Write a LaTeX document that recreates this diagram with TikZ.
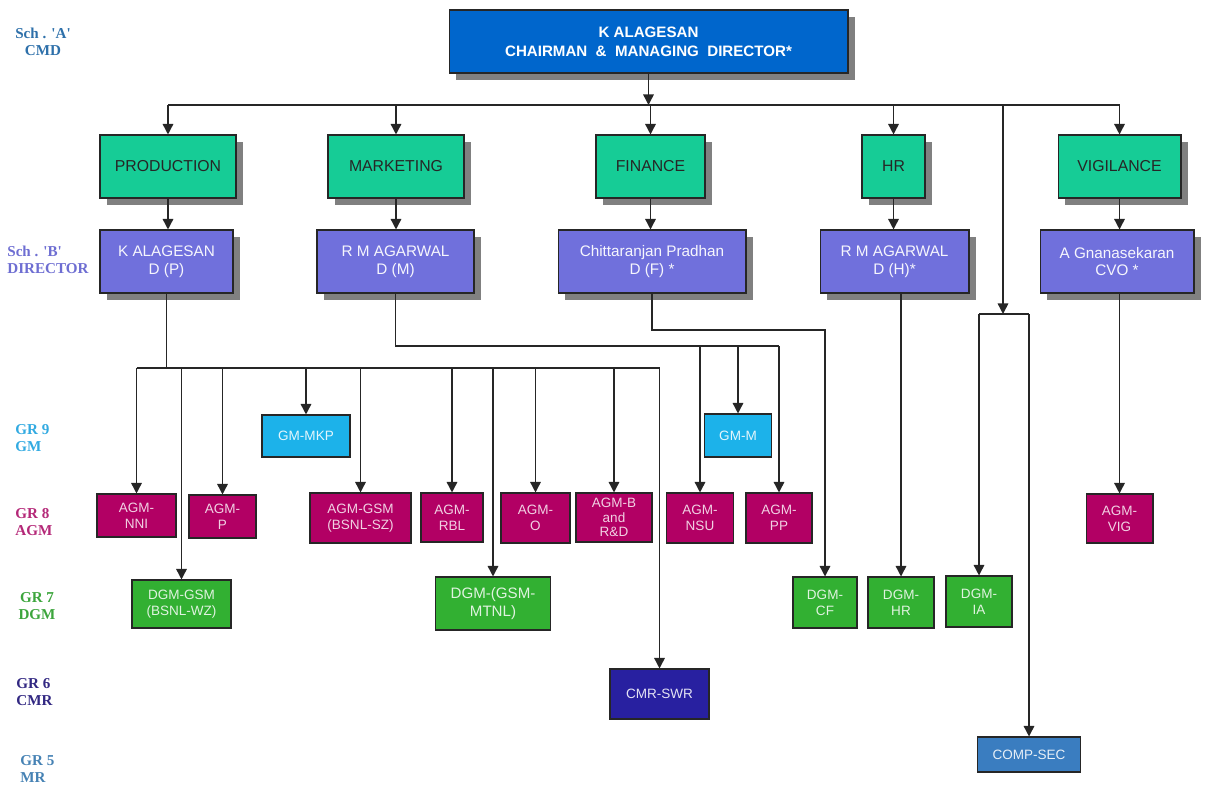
\documentclass[tikz,border=0pt]{standalone}
\usepackage{fontspec}
\setmainfont{Liberation Sans}
\newfontfamily\gradefont{Liberation Serif}
\usepackage{tikz}
\usetikzlibrary{arrows.meta, shadows, calc}
\usepackage{xcolor}

\definecolor{cmdblue}{RGB}{0,102,204}
\definecolor{deptgreen}{RGB}{22,204,150}
\definecolor{dirpurple}{RGB}{112,112,220}
\definecolor{gmblue}{RGB}{28,178,234}
\definecolor{agmred}{RGB}{178,0,100}
\definecolor{dgmgreen}{RGB}{50,176,50}
\definecolor{cmrnavy}{RGB}{40,32,160}
\definecolor{mrblue}{RGB}{58,125,192}
\definecolor{gradeA}{RGB}{46,112,170}
\definecolor{gradeB}{RGB}{110,110,210}
\definecolor{grade9}{RGB}{50,170,225}
\definecolor{grade8}{RGB}{180,40,120}
\definecolor{grade7}{RGB}{60,165,60}
\definecolor{grade6}{RGB}{50,40,130}
\definecolor{grade5}{RGB}{70,130,180}

\tikzset{
  box/.style={draw=black!85, line width=0.6pt, align=center, inner sep=1pt},
  boxshadow/.style={drop shadow={shadow xshift=0.14cm, shadow yshift=-0.14cm, fill=black!50, opacity=1}},
  cmdbox/.style={box, boxshadow, fill=cmdblue, text=white, minimum height=1.26cm,
    font=\bfseries\fontsize{8.6}{10.6}\selectfont},
  deptbox/.style={box, boxshadow, fill=deptgreen, text=black!85, minimum height=1.26cm,
    font=\fontsize{9}{11}\selectfont},
  dirbox/.style={box, boxshadow, fill=dirpurple, text=white!94!dirpurple, minimum height=1.26cm,
    font=\fontsize{8.7}{10.2}\selectfont},
  smallbox/.style={box, font=\fontsize{7.7}{9}\selectfont},
  gmbox/.style={smallbox, fill=gmblue, text=white!88!gmblue},
  agmbox/.style={smallbox, fill=agmred, text=white!82!agmred},
  dgmbox/.style={smallbox, fill=dgmgreen, text=white!85!dgmgreen},
  cmrbox/.style={smallbox, fill=cmrnavy, text=white!88!cmrnavy},
  mrbox/.style={smallbox, fill=mrblue, text=white!88!mrblue},
  grade/.style={font=\gradefont\bfseries\fontsize{8.6}{10}\selectfont, inner sep=0pt},
  link/.style={draw=black!85, line width=0.85pt},
  arr/.style={link, -{Triangle[width=6pt,length=6pt]}}
}

\begin{document}
\begin{tikzpicture}[x=0.02cm, y=-0.02cm]
  \useasboundingbox (0,0) rectangle (1229,787);

  % grade labels
  \node[grade, text=gradeA, align=center] (lA) at (43,42) {Sch . 'A'\\CMD};
  \node[grade, text=gradeB, align=left, anchor=west] (lB) at (7,260) {Sch . 'B'\\DIRECTOR};
  \node[grade, text=grade9, align=left, anchor=west] (l9) at (15,438) {GR 9\\GM};
  \node[grade, text=grade8, align=left, anchor=west] (l8) at (15,522) {GR 8\\AGM};
  \node[grade, text=grade7, align=center] (l7) at (37,606) {GR 7\\DGM};
  \node[grade, text=grade6, align=left, anchor=west] (l6) at (16,692) {GR 6\\CMR};
  \node[grade, text=grade5, align=left, anchor=west] (l5) at (20,769) {GR 5\\MR};

  % top levels
  \node[cmdbox, minimum width=7.98cm] (cmd) at (648.5,41.5)
    {K ALAGESAN\\CHAIRMAN~~\&~~MANAGING~~DIRECTOR*};

  \node[deptbox, minimum width=2.72cm] (prod) at (168,166.5) {PRODUCTION};
  \node[deptbox, minimum width=2.72cm] (mkt) at (396,166.5) {MARKETING};
  \node[deptbox, minimum width=2.18cm] (fin) at (650.5,166.5) {FINANCE};
  \node[deptbox, minimum width=1.26cm] (hr) at (893.5,166.5) {HR};
  \node[deptbox, minimum width=2.46cm] (vig) at (1119.5,166.5) {VIGILANCE};

  \node[dirbox, minimum width=2.66cm] (dirp) at (166.5,261.5) {K ALAGESAN\\D (P)};
  \node[dirbox, minimum width=3.14cm] (dirm) at (395.5,261.5) {R M AGARWAL\\D (M)};
  \node[dirbox, minimum width=3.76cm] (dirf) at (652,261.5) {Chittaranjan Pradhan\\D (F) *};
  \node[dirbox, minimum width=2.98cm] (dirh) at (894.5,261.5) {R M AGARWAL\\D (H)*};
  \node[dirbox, minimum width=3.08cm] (cvo) at (1117,261.5) {A Gnanasekaran\\CVO *};

  % GM
  \node[gmbox, minimum width=1.76cm, minimum height=0.84cm] (gmmkp) at (306,436) {GM-MKP};
  \node[gmbox, minimum width=1.34cm, minimum height=0.86cm] (gmm) at (738,435.5) {GM-M};

  % AGM
  \node[agmbox, minimum width=1.58cm, minimum height=0.86cm] (agmnni) at (136.5,515.5) {AGM-\\NNI};
  \node[agmbox, minimum width=1.34cm, minimum height=0.86cm] (agmp) at (222.5,516.5) {AGM-\\P};
  \node[agmbox, minimum width=2.02cm, minimum height=1cm] (agmgsm) at (360.5,518) {AGM-GSM\\(BSNL-SZ)};
  \node[agmbox, minimum width=1.24cm, minimum height=0.98cm] (agmrbl) at (452,517.5) {AGM-\\RBL};
  \node[agmbox, minimum width=1.38cm, minimum height=1cm] (agmo) at (535.5,518) {AGM-\\O};
  \node[agmbox, minimum width=1.52cm, minimum height=0.98cm, font=\fontsize{7.7}{8.4}\selectfont] (agmbrd) at (614,517.5) {AGM-B\\and\\R\&D};
  \node[agmbox, minimum width=1.34cm, minimum height=1cm] (agmnsu) at (700,518) {AGM-\\NSU};
  \node[agmbox, minimum width=1.32cm, minimum height=1cm] (agmpp) at (779,518) {AGM-\\PP};
  \node[agmbox, minimum width=1.34cm, minimum height=0.98cm] (agmvig) at (1119.5,518.5) {AGM-\\VIG};

  % DGM
  \node[dgmbox, minimum width=1.98cm, minimum height=0.96cm] (dgmwz) at (181.5,604) {DGM-GSM\\(BSNL-WZ)};
  \node[dgmbox, minimum width=2.3cm, minimum height=1.06cm, font=\fontsize{8.6}{10}\selectfont] (dgmmtnl) at (493,603.5) {DGM-(GSM-\\MTNL)};
  \node[dgmbox, minimum width=1.28cm, minimum height=1.02cm] (dgmcf) at (825,602.5) {DGM-\\CF};
  \node[dgmbox, minimum width=1.32cm, minimum height=1.02cm] (dgmhr) at (901,602.5) {DGM-\\HR};
  \node[dgmbox, minimum width=1.32cm, minimum height=1.02cm] (dgmia) at (979,601.5) {DGM-\\IA};

  % CMR and MR
  \node[cmrbox, minimum width=1.98cm, minimum height=1cm] (cmrswr) at (659.5,694) {CMR-SWR};
  \node[mrbox, minimum width=2.06cm, minimum height=0.7cm] (compsec) at (1029,754.5) {COMP-SEC};

  % connectors from the CMD
  \coordinate (bus) at (649,105);
  \draw[arr] (cmd.south) -- (cmd.south |- bus);
  \draw[link] (prod.north |- bus) -- (vig.north |- bus);
  \foreach \n in {prod,mkt,fin,hr,vig}
    \draw[arr] (\n.north |- bus) -- (\n.north);

  \coordinate (split) at (1003,314);
  \draw[arr] (split |- bus) -- (split);
  \draw[link] (dgmia.north |- split) -- (compsec.north |- split);
  \draw[arr] (dgmia.north |- split) -- (dgmia.north);
  \draw[arr] (compsec.north |- split) -- (compsec.north);

  \foreach \a/\b in {prod/dirp,mkt/dirm,fin/dirf,hr/dirh,vig/cvo}
    \draw[arr] (\a.south) -- (\a.south |- \b.north);

  % production
  \coordinate (pbus) at (168,368);
  \draw[link] (dirp.south) -- (dirp.south |- pbus);
  \draw[link] (agmnni.north |- pbus) -- (cmrswr.north |- pbus);
  \foreach \n in {agmnni,dgmwz,agmp,gmmkp,agmgsm,agmrbl,dgmmtnl,agmo,agmbrd,cmrswr}
    \draw[arr] (\n.north |- pbus) -- (\n.north);

  % marketing
  \coordinate (mbus) at (397,346);
  \draw[link] (dirm.south) -- (dirm.south |- mbus) -- (agmpp.north |- mbus);
  \foreach \n in {agmnsu,gmm,agmpp}
    \draw[arr] (\n.north |- mbus) -- (\n.north);

  % finance, hr, vigilance
  \coordinate (fbus) at (824,330);
  \draw[arr] (dirf.south) |- (dgmcf.north |- fbus) -- (dgmcf.north);
  \draw[arr] (dgmhr.north |- dirh.south) -- (dgmhr.north);
  \draw[arr] (agmvig.north |- cvo.south) -- (agmvig.north);

\end{tikzpicture}
\end{document}
